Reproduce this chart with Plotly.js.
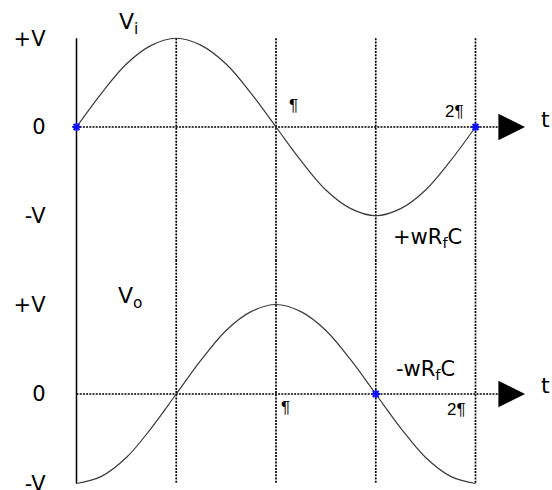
<!DOCTYPE html>
<html>
<head>
<meta charset="utf-8">
<script src="https://cdn.plot.ly/plotly-3.0.1.min.js"></script>
<style>html,body{margin:0;padding:0;background:#fff}</style>
</head>
<body>
<div id="chart" style="width:552px;height:490px"></div>
<script>
// Phase of the input, in units of π
const tPi = [0, 0.125, 0.25, 0.375, 0.5, 0.625, 0.75, 0.875, 1,
             1.125, 1.25, 1.375, 1.5, 1.625, 1.75, 1.875, 2];
// Input Vi (in units of V)
const vIn = [0, 0.38, 0.71, 0.92, 1, 0.92, 0.71, 0.38, 0,
             -0.38, -0.71, -0.92, -1, -0.92, -0.71, -0.38, 0];
// Output Vo of the differentiator (in units of V)
const vOut = [-1, -0.92, -0.71, -0.38, 0, 0.38, 0.71, 0.92, 1,
              0.92, 0.71, 0.38, 0, -0.38, -0.71, -0.92, -1];
// Level labels
const levelVals = [1, 0, -1];
const levelText = ['+V', '0', '-V'];
// Quarter-period guide lines
const gridT = [0.5, 1, 1.5, 2];
// Highlighted zero crossings
const inMarkT = [0, 2];
const outMarkT = [1.5];

// ---- geometry (pixels) ----
const W = 552, H = 490;
const x0px = 76.5, pxPerPi = 199.5;
const topZero = 127, topUnit = 88.75;
const botZero = 394, botUnit = 89.5;
const split = 260;
const xRange = [-x0px / pxPerPi, (W - x0px) / pxPerPi];
const yTopRange = [-(split - topZero) / topUnit, topZero / topUnit];
const yBotRange = [-(H - botZero) / botUnit, (botZero - split) / botUnit];
const splitFrac = 1 - split / H;
const arrowTipT = (525 - x0px) / pxPerPi;
const dashEndT = (505 - x0px) / pxPerPi;

const dotLine = {color: '#000', width: 1.7, dash: '2px,1.2px'};
const curveLine = {color: '#3a3a3a', width: 1.2, shape: 'spline', smoothing: 1};

const traces = [];
function addLine(x, y, yaxis, line) {
  traces.push({type: 'scatter', mode: 'lines', x: x, y: y, yaxis: yaxis,
               line: line, hoverinfo: 'skip', showlegend: false});
}

// guide lines spanning both panels
gridT.forEach(t => {
  addLine([t, t], [1, -3], 'y', dotLine);
  addLine([t, t], [3, -1], 'y2', dotLine);
});
// zero (time) axes
addLine([0, dashEndT], [0, 0], 'y', dotLine);
addLine([0, dashEndT], [0, 0], 'y2', dotLine);
// voltage axis
addLine([0, 0], [1, -3], 'y', {color: '#000', width: 1.5});
addLine([0, 0], [3, -1], 'y2', {color: '#000', width: 1.5});

// waveforms
addLine(tPi, vIn, 'y', curveLine);
addLine(tPi, vOut, 'y2', curveLine);

// zero-crossing markers
const mk = {symbol: 'asterisk-open', size: 7, color: '#1010f0',
            line: {color: '#1010f0', width: 2}};
traces.push({type: 'scatter', mode: 'markers', x: inMarkT, y: inMarkT.map(() => 0),
             yaxis: 'y', marker: mk, hoverinfo: 'skip', showlegend: false, cliponaxis: false});
traces.push({type: 'scatter', mode: 'markers', x: outMarkT, y: outMarkT.map(() => 0),
             yaxis: 'y2', marker: mk, hoverinfo: 'skip', showlegend: false, cliponaxis: false});

const FONT = 'DejaVu Sans, Liberation Sans, Arial, sans-serif';
const FONT_PI = 'Liberation Sans, Arial, sans-serif';
function label(text, x, yref, y, size, family) {
  return {text: text, x: x, y: y, xref: 'x', yref: yref, showarrow: false,
          xanchor: 'center', yanchor: 'middle',
          font: {family: family || FONT, size: size, color: '#000'}};
}
function arrow(yref) {
  return {text: '', x: arrowTipT, y: 0, xref: 'x', yref: yref,
          showarrow: true, ax: -24, ay: 0, arrowhead: 2, arrowsize: 3.55,
          arrowwidth: 1.5, arrowcolor: '#000'};
}

const annotations = [
  label('V<sub>i</sub>', 0.262, 'y', 1.17, 22),
  label('V<sub>o</sub>', 0.268, 'y2', 1.08, 22),
  label('¶', 1.09, 'y', 0.24, 17, FONT_PI),
  label('2¶', 1.897, 'y', 0.18, 17, FONT_PI),
  label('+wR<sub>f</sub>C', 1.757, 'y', -1.25, 21),
  label('-wR<sub>f</sub>C', 1.747, 'y2', 0.27, 21),
  label('¶', 1.05, 'y2', -0.15, 17, FONT_PI),
  label('2¶', 1.907, 'y2', -0.17, 17, FONT_PI),
  label('t', 2.353, 'y', 0.09, 22),
  label('t', 2.353, 'y2', 0.09, 22),
  arrow('y'),
  arrow('y2')
];

const yCommon = {
  anchor: 'free', position: x0px / W, showgrid: false, zeroline: false,
  showline: false, ticks: '', tickvals: levelVals, ticktext: levelText,
  ticklabelstandoff: 31, ticklabeloverflow: 'allow',
  tickfont: {family: FONT, size: 21, color: '#000'},
  fixedrange: true
};

const layout = {
  width: W, height: H,
  margin: {l: 0, r: 0, t: 0, b: 0, pad: 0},
  paper_bgcolor: '#fff', plot_bgcolor: '#fff',
  showlegend: false,
  xaxis: {range: xRange, visible: false, fixedrange: true},
  yaxis: Object.assign({}, yCommon, {domain: [splitFrac, 1], range: yTopRange}),
  yaxis2: Object.assign({}, yCommon, {domain: [0, splitFrac], range: yBotRange}),
  annotations: annotations
};

Plotly.newPlot('chart', traces, layout, {staticPlot: true, displayModeBar: false});
</script>
</body>
</html>
